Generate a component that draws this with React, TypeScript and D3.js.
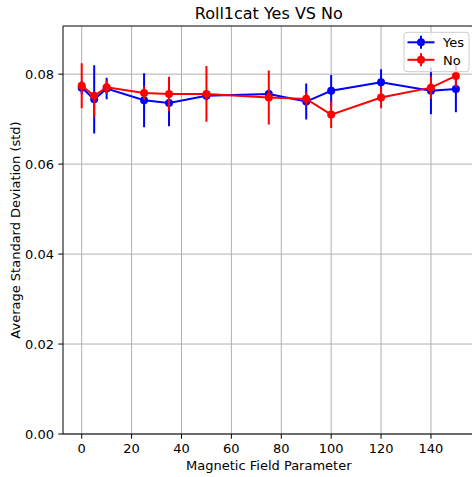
import React from "react";
import * as d3 from "d3";

// Magnetic field parameter values sampled for both conditions
const fieldValues = [0, 5, 10, 25, 35, 50, 75, 90, 100, 120, 140, 150];

// "Yes" condition: mean std and error extents
const yesMean = [0.0770, 0.0744, 0.0768, 0.0742, 0.0736, 0.0752, 0.0756, 0.0739, 0.0763, 0.0782, 0.0763, 0.0767];
const yesErrLow = [0.0015, 0.0076, 0.0024, 0.0060, 0.0052, 0.0010, 0.0010, 0.0040, 0.0035, 0.0029, 0.0052, 0.0052];
const yesErrHigh = [0.0015, 0.0076, 0.0024, 0.0060, 0.0052, 0.0010, 0.0010, 0.0040, 0.0035, 0.0029, 0.0052, 0.0052];

// "No" condition: mean std and error extents
const noMean = [0.0774, 0.0752, 0.0771, 0.0758, 0.0756, 0.0756, 0.0748, 0.0745, 0.0710, 0.0748, 0.0770, 0.0796];
const noErrLow = [0.0050, 0.0047, 0.0015, 0.0015, 0.0038, 0.0062, 0.0060, 0.0015, 0.0030, 0.0024, 0.0025, 0.0025];
const noErrHigh = [0.0050, 0.0005, 0.0015, 0.0015, 0.0038, 0.0062, 0.0060, 0.0015, 0.0030, 0.0024, 0.0025, 0.0025];

const xTicks = [0, 20, 40, 60, 80, 100, 120, 140];
const yTicks = [0, 0.02, 0.04, 0.06, 0.08];

const W = 472;
const H = 477;
const FONT = "DejaVu Sans, sans-serif";

const plot = { left: 63, right: 474.6, top: 26, bottom: 434 };

export default function App() {
  const x = d3.scaleLinear().domain([-7.5, 157.5]).range([plot.left, plot.right]);
  const y = d3.scaleLinear().domain([0, 0.0907]).range([plot.bottom, plot.top]);

  const series = [
    { name: "Yes", color: "#0000ff", mean: yesMean, lo: yesErrLow, hi: yesErrHigh },
    { name: "No", color: "#ff0000", mean: noMean, lo: noErrLow, hi: noErrHigh },
  ];

  const line = d3
    .line<number>()
    .x((_, i) => x(fieldValues[i]))
    .y((d) => y(d));

  return (
    <svg width={W} height={H} style={{ position: "absolute", left: 0, top: 0, background: "#fff" }} fontFamily={FONT}>
      <defs>
        <clipPath id="plotClip">
          <rect x={plot.left} y={plot.top} width={plot.right - plot.left} height={plot.bottom - plot.top} />
        </clipPath>
      </defs>
      <rect x={0} y={0} width={W} height={H} fill="#fff" />

      {/* grid */}
      {xTicks.map((t) => (
        <line key={"gx" + t} x1={x(t)} x2={x(t)} y1={plot.top} y2={plot.bottom} stroke="#b0b0b0" strokeWidth={1} />
      ))}
      {yTicks.map((t) => (
        <line key={"gy" + t} x1={plot.left} x2={plot.right} y1={y(t)} y2={y(t)} stroke="#b0b0b0" strokeWidth={1} />
      ))}

      {/* series */}
      <g clipPath="url(#plotClip)">
        {series.map((s) => (
          <g key={s.name}>
            <path d={line(s.mean) ?? ""} fill="none" stroke={s.color} strokeWidth={2} />
            {s.mean.map((m, i) => (
              <line
                key={"e" + i}
                x1={x(fieldValues[i])}
                x2={x(fieldValues[i])}
                y1={y(m - s.lo[i])}
                y2={y(m + s.hi[i])}
                stroke={s.color}
                strokeWidth={2}
              />
            ))}
            {s.mean.map((m, i) => (
              <circle key={"m" + i} cx={x(fieldValues[i])} cy={y(m)} r={4} fill={s.color} />
            ))}
          </g>
        ))}
      </g>

      {/* spines */}
      <line x1={plot.left} x2={plot.left} y1={plot.top} y2={plot.bottom} stroke="#000" strokeWidth={1} />
      <line x1={plot.left} x2={plot.right} y1={plot.bottom} y2={plot.bottom} stroke="#000" strokeWidth={1} />
      <line x1={plot.left} x2={plot.right} y1={plot.top} y2={plot.top} stroke="#000" strokeWidth={1} />
      <line x1={plot.right} x2={plot.right} y1={plot.top} y2={plot.bottom} stroke="#000" strokeWidth={1} />

      {/* x ticks */}
      {xTicks.map((t) => (
        <g key={"tx" + t}>
          <line x1={x(t)} x2={x(t)} y1={plot.bottom} y2={plot.bottom + 4.7} stroke="#000" strokeWidth={1} />
          <text x={x(t)} y={452.7} textAnchor="middle" fontSize={13} fill="#000">
            {t}
          </text>
        </g>
      ))}
      {/* y ticks */}
      {yTicks.map((t) => (
        <g key={"ty" + t}>
          <line x1={plot.left - 4.7} x2={plot.left} y1={y(t)} y2={y(t)} stroke="#000" strokeWidth={1} />
          <text x={54} y={y(t) + 4.7} textAnchor="end" fontSize={13} fill="#000">
            {d3.format(".2f")(t)}
          </text>
        </g>
      ))}

      {/* labels */}
      <text x={(plot.left + plot.right) / 2} y={19} textAnchor="middle" fontSize={16} fill="#000">
        Roll1cat Yes VS No
      </text>
      <text x={(plot.left + plot.right) / 2} y={469.5} textAnchor="middle" fontSize={13} fill="#000">
        Magnetic Field Parameter
      </text>
      <text
        transform={`translate(19.5, ${(plot.top + plot.bottom) / 2}) rotate(-90)`}
        textAnchor="middle"
        fontSize={13}
        fill="#000"
      >
        Average Standard Deviation (std)
      </text>

      {/* legend */}
      <g>
        <rect x={404} y={32.3} width={65} height={39.4} rx={3} fill="#fff" fillOpacity={0.8} stroke="#cccccc" strokeWidth={1} />
        {series.map((s, i) => {
          const ly = 42.3 + i * 17.5;
          return (
            <g key={"lg" + s.name}>
              <line x1={407.5} x2={434.5} y1={ly} y2={ly} stroke={s.color} strokeWidth={2} />
              <line x1={421} x2={421} y1={ly - 6.5} y2={ly + 6.5} stroke={s.color} strokeWidth={2} />
              <circle cx={421} cy={ly} r={4} fill={s.color} />
              <text x={443} y={ly + 4.7} fontSize={13} fill="#000">
                {s.name}
              </text>
            </g>
          );
        })}
      </g>
    </svg>
  );
}
